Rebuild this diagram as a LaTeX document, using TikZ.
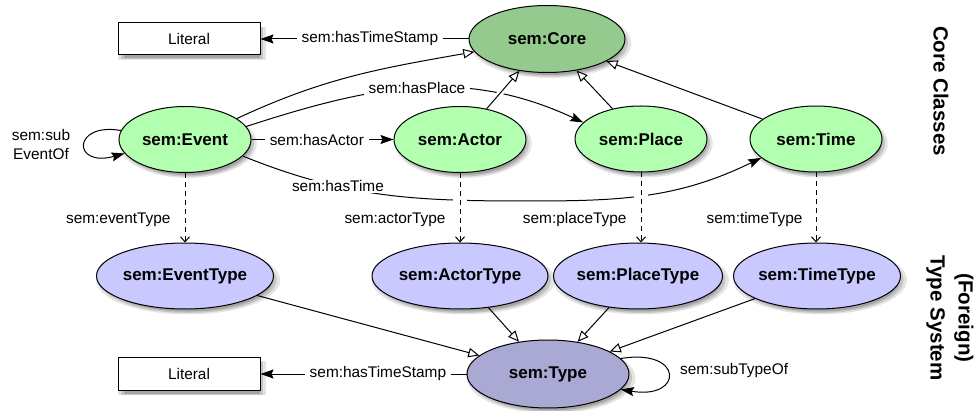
\documentclass[tikz,border=0pt]{standalone}
\usepackage{fontspec}
\setmainfont{Liberation Sans}
\usetikzlibrary{arrows.meta,shapes.geometric,shadows,calc}
\definecolor{coregreen}{RGB}{149,202,142}
\definecolor{clsgreen}{RGB}{179,255,176}
\definecolor{typeblue}{RGB}{201,201,255}
\definecolor{typedark}{RGB}{169,169,212}
\newcommand\zwbox[1]{\makebox[0pt]{#1}}
\begin{document}
\begin{tikzpicture}[x=1pt,y=1pt,
  shad/.style={
    drop shadow={shadow xshift=3pt,shadow yshift=-4pt,opacity=.10,fill=black,shadow scale=1.04},
    drop shadow={shadow xshift=3pt,shadow yshift=-4pt,opacity=.14,fill=black},
    drop shadow={shadow xshift=3pt,shadow yshift=-4pt,opacity=.16,fill=black,shadow scale=.96}},
  cls/.style={ellipse, draw, line width=1pt, fill=clsgreen, minimum width=132pt,
    minimum height=66pt, inner sep=0pt, font=\bfseries\fontsize{17}{20}\selectfont, shad},
  typ/.style={cls, fill=typeblue, minimum height=66pt},
  litbox/.style={rectangle, draw, line width=1pt, fill=white, minimum width=142pt,
    minimum height=32pt, inner sep=0pt, font=\fontsize{15.4}{18}\selectfont, shad},
  lbl/.style={fill=white, inner xsep=5pt, inner ysep=1pt, font=\fontsize{15.4}{18}\selectfont},
  lblplain/.style={inner sep=1pt, font=\fontsize{15.4}{19}\selectfont},
  side/.style={font=\bfseries\fontsize{20.5}{28}\selectfont, inner sep=0pt},
  edge/.style={line width=1pt},
  fillarrow/.style={edge, -{Stealth[length=13pt,width=9pt,inset=2pt]}},
  openarrow/.style={edge, -{Triangle[open,length=11pt,width=9.5pt,fill=white]}},
  dasharrow/.style={edge, dash pattern=on 5pt off 4pt, -{Straight Barb[length=5pt,width=9pt]}}
]
\useasboundingbox (0,0) rectangle (976,-411);

% nodes
\node[cls, fill=coregreen, minimum width=156pt, minimum height=67pt] (Core) at (547,-39) {\zwbox{sem:Core}};
\node[litbox] (Lit1) at (189,-39) {Literal};
\node[cls] (Event) at (185,-139.5) {\zwbox{sem:Event}};
\node[cls] (Actor) at (460,-139.5) {\zwbox{sem:Actor}};
\node[cls] (Place) at (641,-139) {\zwbox{sem:Place}};
\node[cls] (Time) at (816,-139) {\zwbox{sem:Time}};
\node[typ, minimum width=177pt] (EventType) at (185,-276) {\zwbox{sem:EventType}};
\node[typ, minimum width=176pt] (ActorType) at (460,-276) {\zwbox{sem:ActorType}};
\node[typ, minimum width=169pt] (PlaceType) at (638,-276) {\zwbox{sem:PlaceType}};
\node[typ, minimum width=167pt] (TimeType) at (817,-276) {\zwbox{sem:TimeType}};
\node[typ, fill=typedark, minimum width=162pt, minimum height=68pt] (Type) at (548,-374) {\zwbox{sem:Type}};
\node[litbox, minimum height=33pt] (Lit2) at (189,-374) {Literal};

\node[side, rotate=-90] (sideCore) at (941,-91) {Core Classes};
\node[side, rotate=-90, align=center] (sideType) at (950,-318) {(Foreign)\\Type System};

% core level edges
\draw[fillarrow] (Core) -- node[lbl, pos=0.474] {sem:hasTimeStamp} (Lit1);
\draw[openarrow] (Event.22) to[out=25, in=190] (Core.190);
\draw[fillarrow] (Event.12) to[out=18, in=155] node[lbl] {sem:hasPlace} (Place.164);
\draw[fillarrow] (Event) -- node[lbl, pos=0.46] {sem:hasActor} (Actor);
\coordinate (tlow) at (530,-201);
\draw[fillarrow] (Event.344) to[out=-22, in=180] node[lbl, pos=0.33] {sem:hasTime} (tlow)
   to[out=0, in=206] (Time.199);
\draw[openarrow, preaction={-, draw=white, line width=6pt, shorten <=8pt, shorten >=14pt}] (Actor) -- (Core);
\draw[openarrow] (Place) -- (Core);
\draw[openarrow] (Time) -- (Core);

% self loop on Event
\draw[fillarrow] (Event.172) .. controls (72,-122) and (72,-168) .. (Event.193);
\node[lblplain, align=center] (subEv) at (41,-144) {sem:sub\\EventOf};

% white gaps where hasTime crosses the dashed lines
\draw[white, line width=14pt, shorten <=15pt, shorten >=38pt] (Actor.south) -- (ActorType.north);
\draw[white, line width=14pt, shorten <=15pt, shorten >=38pt] (Place.south) -- (Place.south |- PlaceType.north);

% dashed type edges
\draw[dasharrow] (Event.south) -- node[lblplain, pos=0.67, anchor=east, xshift=-13pt] {sem:eventType} (EventType.north);
\draw[dasharrow] (Actor.south) -- node[lblplain, pos=0.67, anchor=east, xshift=-13pt] {sem:actorType} (ActorType.north);
\draw[dasharrow] (Place.south) -- node[lblplain, pos=0.67, anchor=east, xshift=-13pt] {sem:placeType} (Place.south |- PlaceType.north);
\draw[dasharrow] (Time.south) -- node[lblplain, pos=0.67, anchor=east, xshift=-12pt] {sem:timeType} (Time.south |- TimeType.north);

% type level edges
\draw[openarrow] (EventType) -- (Type);
\draw[openarrow] (ActorType) -- (Type);
\draw[openarrow] (PlaceType) -- (Type);
\draw[openarrow] (TimeType) -- (Type);
\draw[fillarrow] (Type) -- node[lbl, pos=0.43] {sem:hasTimeStamp} (Lit2);
\draw[fillarrow] (Type.12) .. controls (684,-348) and (684,-400) .. (Type.-12);
\node[lblplain, anchor=west] (subType) at (679,-371) {sem:subTypeOf};
\end{tikzpicture}
\end{document}
